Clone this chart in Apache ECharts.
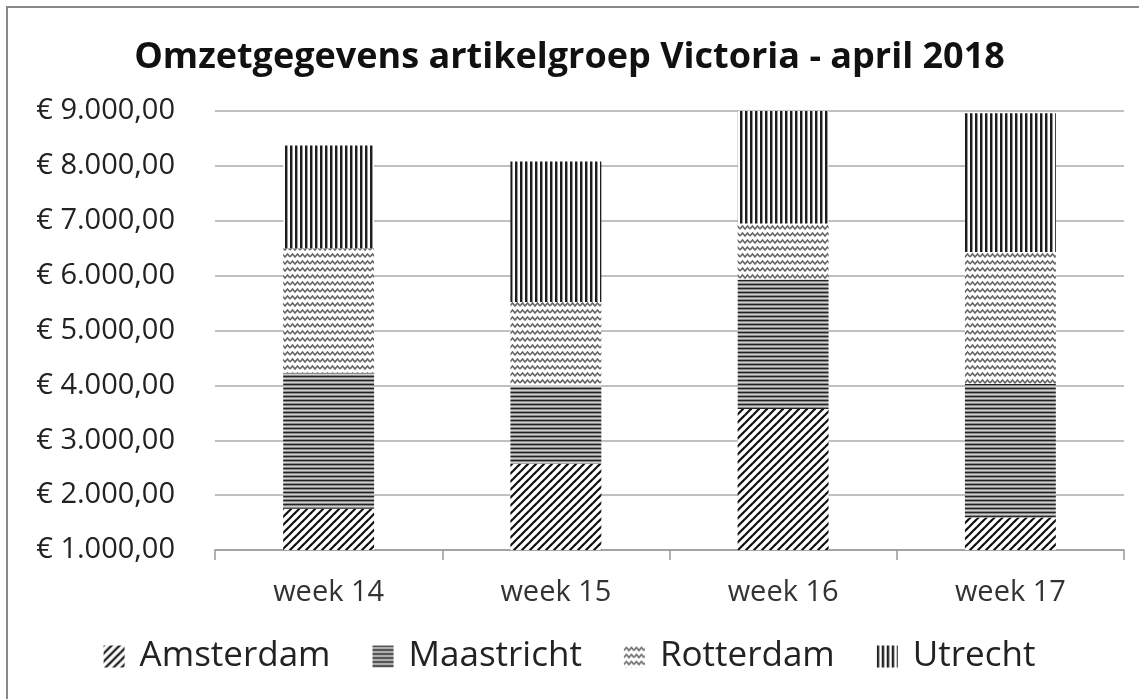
<!DOCTYPE html>
<html>
<head>
    <meta charset="utf-8">
    <title>Omzetgegevens artikelgroep Victoria</title>
    <!-- echarts -->
    <script src="https://cdn.jsdelivr.net/npm/echarts@6.0.0/dist/echarts.min.js"></script>
    <style>
        body { margin: 0; background: #fff; }
    </style>
</head>
<body>
    <div id="main" style="width: 1139px;height:699px;"></div>

    <script type="text/javascript">

        // data (per stad, gestapeld)
        var weken = ['week 14', 'week 15', 'week 16', 'week 17'];
        var amsterdam = [1750, 2570, 3570, 1590];
        var maastricht = [2480, 1430, 2360, 2440];
        var rotterdam = [2270, 1520, 1020, 2400];
        var utrecht = [1870, 2560, 2050, 2530];
        var yTicks = [1000, 2000, 3000, 4000, 5000, 6000, 7000, 8000, 9000];

        // kleine canvas patronen (zwart-wit arcering)
        function tile(w, h, draw) {
            var c = document.createElement('canvas');
            c.width = w;
            c.height = h;
            var ctx = c.getContext('2d');
            ctx.fillStyle = '#fff';
            ctx.fillRect(0, 0, w, h);
            draw(ctx);
            return { image: c, repeat: 'repeat' };
        }

        // Amsterdam: schuine lijnen
        var patDiag = tile(8, 8, function (ctx) {
            ctx.strokeStyle = '#111';
            ctx.lineWidth = 2.2;
            for (var k = -1; k <= 1; k++) {
                ctx.beginPath();
                ctx.moveTo(k * 8 - 1, 9);
                ctx.lineTo(k * 8 + 9, -1);
                ctx.stroke();
            }
        });

        // Maastricht: horizontale lijnen
        var patHor = tile(4, 4, function (ctx) {
            ctx.fillStyle = '#222';
            ctx.fillRect(0, 0, 4, 1);
            ctx.fillStyle = '#8a8a8a';
            ctx.fillRect(0, 1, 4, 1);
            ctx.fillStyle = '#d0d0d0';
            ctx.fillRect(0, 2, 4, 1);
            ctx.fillStyle = '#8a8a8a';
            ctx.fillRect(0, 3, 4, 1);
        });

        // Rotterdam: golfjes
        var patWave = tile(10, 7, function (ctx) {
            ctx.strokeStyle = '#666';
            ctx.lineWidth = 1.6;
            ctx.beginPath();
            ctx.moveTo(0, 5);
            ctx.lineTo(2.5, 2);
            ctx.lineTo(5, 5);
            ctx.lineTo(7.5, 2);
            ctx.lineTo(10, 5);
            ctx.stroke();
        });

        // Utrecht: verticale lijnen
        var patVer = tile(5, 4, function (ctx) {
            ctx.fillStyle = '#1e1e1e';
            ctx.fillRect(0, 0, 2, 4);
            ctx.fillStyle = '#9a9a9a';
            ctx.fillRect(2, 0, 1, 4);
        });

        function euro(v) {
            var s = String(Math.round(v));
            s = s.replace(/\B(?=(\d{3})+(?!\d))/g, '.');
            return '€ ' + s + ',00';
        }

        var myChart = echarts.init(document.getElementById('main'));

        var option = {
            backgroundColor: '#fff',
            animation: false,
            title: {
                text: 'Omzetgegevens artikelgroep Victoria - april 2018',
                left: 'center',
                top: 35,
                textStyle: {
                    fontFamily: 'Open Sans',
                    fontWeight: 'bold',
                    fontSize: 36,
                    color: '#111'
                }
            },
            graphic: [{
                type: 'rect',
                shape: { x: 7, y: 7, width: 1300, height: 900 },
                style: { fill: 'none', stroke: '#888', lineWidth: 2 },
                silent: true
            }],
            legend: {
                data: ['Amsterdam', 'Maastricht', 'Rotterdam', 'Utrecht'],
                bottom: 20,
                left: 'center',
                icon: 'rect',
                itemWidth: 21,
                itemHeight: 22,
                itemGap: 42,
                textStyle: {
                    fontFamily: 'Open Sans',
                    fontSize: 35,
                    color: '#222',
                    padding: [0, 0, 0, 10]
                }
            },
            grid: {
                left: 215,
                right: 15,
                top: 111,
                bottom: 149
            },
            xAxis: {
                type: 'category',
                data: weken,
                axisLine: { lineStyle: { color: '#999', width: 1.5 } },
                axisTick: { show: true, length: 10, lineStyle: { color: '#999', width: 1.5 } },
                axisLabel: {
                    margin: 28,
                    fontFamily: 'Open Sans',
                    fontSize: 29,
                    color: '#333'
                }
            },
            yAxis: {
                type: 'value',
                min: yTicks[0],
                max: yTicks[yTicks.length - 1],
                interval: 1000,
                axisLine: { show: false },
                axisTick: { show: false },
                splitLine: { lineStyle: { color: '#c0c0c0', width: 2 } },
                axisLabel: {
                    margin: 40,
                    fontFamily: 'Open Sans',
                    fontSize: 29,
                    color: '#222',
                    formatter: euro
                }
            },
            series: [
                { name: 'Amsterdam', type: 'bar', stack: 'tot', barWidth: '40%', data: amsterdam, itemStyle: { color: patDiag } },
                { name: 'Maastricht', type: 'bar', stack: 'tot', barWidth: '40%', data: maastricht, itemStyle: { color: patHor } },
                { name: 'Rotterdam', type: 'bar', stack: 'tot', barWidth: '40%', data: rotterdam, itemStyle: { color: patWave } },
                { name: 'Utrecht', type: 'bar', stack: 'tot', barWidth: '40%', data: utrecht, itemStyle: { color: patVer } }
            ]
        };

        myChart.setOption(option);

    </script>

</body>
</html>
